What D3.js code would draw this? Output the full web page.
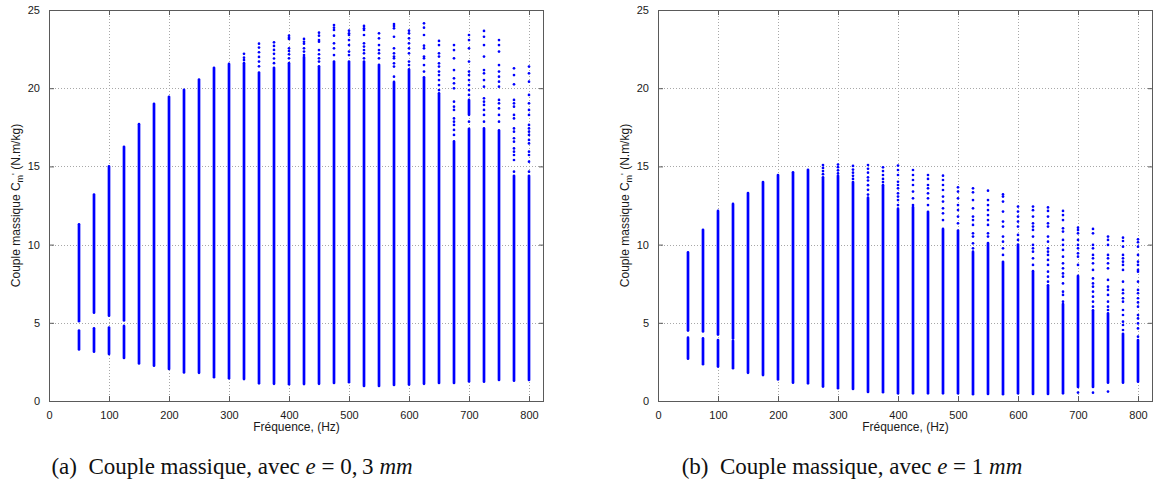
<!DOCTYPE html>
<html><head><meta charset="utf-8">
<script src="https://cdn.jsdelivr.net/npm/d3@7"></script>
<style>body{margin:0;background:#fff}svg{display:block}</style>
</head><body>
<svg id="c" width="1157" height="487"></svg>
<script>
const freqs = [50,75,100,125,150,175,200,225,250,275,300,325,350,375,400,425,450,475,500,525,550,575,600,625,650,675,700,725,750,775,800];
const xTicks = [0,100,200,300,400,500,600,700,800];
const yTicks = [0,5,10,15,20,25];

// Panel (a) e = 0,3 mm : solid runs [low, high] and isolated points per frequency
const segsA = [
 [[3.3,4.5],[5.1,11.3]],[[3.15,4.65],[5.65,13.2]],[[3.0,4.7],[5.45,15.0]],[[2.75,4.8],[5.15,16.25]],
 [[2.4,17.7]],[[2.26,19.0]],[[2.05,19.45]],[[1.83,19.9]],[[1.8,20.55]],[[1.52,21.3]],[[1.45,21.55]],
 [[1.4,21.6]],[[1.13,21.0]],[[1.1,21.3]],[[1.07,21.6]],[[1.08,22.0]],[[1.1,21.4]],[[1.15,21.7]],
 [[1.2,21.7]],[[0.96,21.7]],[[0.96,21.5]],[[1.03,20.4]],[[1.05,21.2]],[[1.1,20.7]],[[1.15,19.67]],
 [[1.15,16.6]],[[1.25,17.4],[18.3,19.25]],[[1.23,17.43]],[[1.35,17.3]],[[1.3,14.4]],[[1.35,14.4]]
];
const dotsA = [
 [],[],[],[],[],[],[],[],[],[],[],
 [22.2,21.95,21.8],
 [22.85,22.6,22.3,22.0,21.7,21.4],
 [22.93,22.7,22.45,22.2,21.9,21.6],
 [23.36,23.23,23.15,22.55,22.38,22.17,21.91],
 [23.15,22.97,22.85,22.55,22.34,22.12],
 [23.55,23.36,23.08,22.97,22.44,22.17,21.91,21.7],
 [24.04,23.87,23.72,23.36,22.87,22.55,22.12],
 [23.68,23.51,23.4,23.08,22.76,22.34,22.12],
 [23.98,23.83,23.72,23.4,22.87,22.66,22.44,22.23,21.91],
 [23.51,23.19,22.76,22.44,22.23,21.91],
 [24.1,23.98,23.83,23.29,22.55,22.23,22.02,21.91,21.59,21.38,20.74],
 [23.68,23.51,23.19,22.87,22.55,22.23,21.7,21.48],
 [24.15,23.87,23.4,22.72,22.55,22.02,21.91,21.48,21.06],
 [23.02,22.76,22.23,22.02,21.59,21.38,21.06,20.84,20.52,20.2,19.88],
 [22.76,22.44,21.91,21.16,20.63,20.31,19.99,19.14,18.82,18.61,18.07,17.86,17.65,17.33,17.01],
 [23.4,23.08,22.55,21.7,21.06,20.84,20.52,20.2,19.88,19.57,17.86],
 [23.66,23.29,22.76,22.02,21.16,20.95,20.52,20.1,19.35,19.14,18.93,18.61,18.29,17.86],
 [23.08,22.76,22.34,21.48,21.06,20.74,20.42,20.1,19.25,19.03,18.71,18.29,17.86],
 [21.27,20.84,20.25,19.25,19.03,18.82,18.29,18.07,17.43,17.22,16.8,16.58,16.15,15.94,15.73,15.41,14.66],
 [21.38,20.95,20.42,19.57,19.03,18.61,18.29,17.65,17.43,17.22,17.01,16.69,16.47,15.94,15.73,15.3,14.66]
];

// Panel (b) e = 1 mm
const segsB = [
 [[2.7,4.05],[4.5,9.5]],[[2.35,4.0],[4.45,10.95]],[[2.2,3.9],[4.25,12.15]],[[2.1,3.85],[4.0,12.6]],
 [[1.8,13.3]],[[1.66,14.0]],[[1.38,14.45]],[[1.17,14.62]],[[1.13,14.78]],[[0.92,14.3]],[[0.82,14.4]],
 [[0.77,14.0]],[[0.58,13.0]],[[0.56,13.8]],[[0.49,12.3]],[[0.49,12.4]],[[0.49,12.1]],[[0.49,11.0]],
 [[0.49,10.9]],[[0.43,9.55]],[[0.45,10.1]],[[0.43,8.9]],[[0.49,10.0]],[[0.45,8.3]],[[0.45,7.4]],
 [[0.49,6.2]],[[0.9,8.0]],[[0.9,5.8]],[[1.17,5.6]],[[1.17,4.3]],[[1.23,3.9]]
];
const dotsB = [
 [],[],[],[],[],[],[],[],[],
 [15.09,14.9,14.7,14.5],
 [15.12,14.95,14.75,14.55],
 [15.03,14.8,14.6,14.4,14.2],
 [15.09,14.85,14.6,14.3,14.1,13.8,13.5,13.2],
 [14.94,14.7,14.45,14.2,14.0],
 [15.05,14.77,14.45,14.02,13.81,13.6,13.28,13.07,12.85,12.53],
 [14.77,14.45,14.13,13.81,13.39,12.96,12.53],
 [14.45,14.2,13.81,13.6,13.28,12.96,12.53],
 [14.41,14.13,13.81,13.49,13.07,12.75,12.32,12.0,11.57],
 [13.66,13.39,12.96,12.53,12.21,11.79,11.36],
 [13.6,13.34,12.85,12.32,11.79,11.57,11.26,10.72,10.51,10.08,9.76],
 [13.45,12.85,12.53,12.21,11.89,11.57,11.26,10.72,10.51],
 [13.21,13.07,12.75,12.11,11.47,11.15,10.51,10.19,9.76,9.34],
 [12.43,12.11,11.79,11.47,11.15,10.62,10.3],
 [12.43,12.2,11.79,11.36,11.15,10.94,10.51,9.98,9.76,9.55,9.12,8.7],
 [12.38,12.15,11.79,11.36,11.15,10.51,10.19,9.76,9.55,9.34,9.02,8.7,8.27,7.95,7.63],
 [12.15,11.89,11.57,11.04,10.83,10.3,9.98,9.66,9.23,8.8,8.48,8.16,7.95,7.52,6.99,6.78,6.35],
 [11.08,10.93,10.72,10.3,9.98,9.76,9.44,9.23,8.7,0.54],
 [11.0,10.72,9.98,9.76,9.34,9.12,8.8,8.38,7.84,7.52,7.31,6.99,6.67,6.35,6.03,0.53],
 [10.51,10.3,9.98,9.34,9.12,8.8,8.48,7.74,7.31,7.1,6.78,6.35,6.03,5.82,0.6],
 [10.44,10.23,9.87,9.34,9.12,8.91,8.7,8.38,7.63,7.1,6.89,6.57,6.35,5.82,5.5,5.07,4.86,4.54],
 [10.34,10.15,9.87,9.34,8.91,8.7,8.38,8.27,7.63,7.1,6.89,6.57,6.3,6.03,5.5,5.28,4.96,4.64,4.11]
];

const xLabel = "Fréquence, (Hz)";
const captions = [
  {tag:"(a)", text:"Couple massique, avec ", val:"0,\u20093"},
  {tag:"(b)", text:"Couple massique, avec ", val:"1"}
];

const svg = d3.select("#c");
const plotTop = 10, plotBot = 401;
const y = d3.scaleLinear().domain([0,25]).range([plotBot, plotTop]);
const sans = "Liberation Sans, Arial, sans-serif";
const blue = "#0000ff";

function panel(left, right, segs, dots, cap, capX) {
  const x = d3.scaleLinear().domain([0,825]).range([left, right]);
  const g = svg.append("g");
  // grid
  g.append("g").selectAll("line").data(xTicks.filter(d=>d>0)).join("line")
    .attr("x1", d=>Math.round(x(d))+0.5).attr("x2", d=>Math.round(x(d))+0.5).attr("y1", plotTop).attr("y2", plotBot)
    .attr("stroke", "#a8a8a8").attr("stroke-dasharray", "1,2");
  g.append("g").selectAll("line").data(yTicks.filter(d=>d>0 && d<25)).join("line")
    .attr("y1", d=>Math.round(y(d))+0.5).attr("y2", d=>Math.round(y(d))+0.5).attr("x1", left).attr("x2", right)
    .attr("stroke", "#a8a8a8").attr("stroke-dasharray", "1,2");
  // data
  const cols = g.append("g");
  freqs.forEach((f,i) => {
    segs[i].forEach(s => {
      cols.append("line").attr("x1", x(f)).attr("x2", x(f))
        .attr("y1", y(s[0])).attr("y2", y(s[1]))
        .attr("stroke", blue).attr("stroke-width", 2.7).attr("stroke-linecap", "round");
    });
    dots[i].forEach(v => {
      cols.append("circle").attr("cx", x(f)).attr("cy", y(v)).attr("r", 1.35).attr("fill", blue);
    });
  });
  // axes box with inner ticks
  const axB = d3.axisBottom(x).tickValues(xTicks).tickSize(-5).tickPadding(10).tickFormat(d3.format("d"));
  const axT = d3.axisTop(x).tickValues(xTicks).tickSize(-5).tickFormat("");
  const axL = d3.axisLeft(y).tickValues(yTicks).tickSize(-5).tickPadding(9);
  const axR = d3.axisRight(y).tickValues(yTicks).tickSize(-5).tickFormat("");
  const style = sel => {
    sel.selectAll("path").attr("stroke", "#5a5a5a");
    sel.selectAll("line").attr("stroke", "#5a5a5a");
    sel.selectAll("text").attr("fill", "#1a1a1a").style("font-family", sans).style("font-size", "11px");
  };
  g.append("g").attr("transform", `translate(0,${plotBot})`).call(axB).call(style);
  g.append("g").attr("transform", `translate(0,${plotTop})`).call(axT).call(style);
  g.append("g").attr("transform", `translate(${left},0)`).call(axL).call(style);
  g.append("g").attr("transform", `translate(${right},0)`).call(axR).call(style);
  g.selectAll(".domain").remove();
  g.append("rect").attr("x", left+0.5).attr("y", plotTop+0.5).attr("width", right-left-1).attr("height", plotBot-plotTop)
    .attr("fill", "none").attr("stroke", "#5a5a5a");
  // x label
  g.append("text").attr("x", (left+right)/2).attr("y", 431).attr("text-anchor", "middle")
    .style("font-family", sans).style("font-size", "12px").attr("fill", "#1a1a1a").text(xLabel);
  // y label
  const yl = g.append("text").attr("transform", `translate(${left-29},${(plotTop+plotBot)/2}) rotate(-90)`)
    .attr("text-anchor", "middle").style("font-family", sans).style("font-size", "12px").attr("fill", "#1a1a1a");
  yl.append("tspan").text("Couple massique C");
  yl.append("tspan").attr("dy", 3).style("font-size", "9px").text("m");
  yl.append("tspan").attr("dy", -5).style("font-size", "9px").text("'");
  yl.append("tspan").attr("dy", 2).text(" (N.m/kg)");
  // caption
  const serif = "Liberation Serif, DejaVu Serif, serif";
  const c = svg.append("text").attr("x", capX).attr("y", 474).attr("text-anchor", "middle")
    .style("font-family", serif).style("font-size", "23px").attr("fill", "#111");
  c.append("tspan").text(cap.tag + "\u2002" + cap.text);
  c.append("tspan").style("font-style", "italic").text("e");
  c.append("tspan").text(" = " + cap.val + " ");
  c.append("tspan").style("font-style", "italic").text("mm");
}

panel(49, 544, segsA, dotsA, captions[0], 232);
panel(658, 1153, segsB, dotsB, captions[1], 852);
</script>
</body></html>
